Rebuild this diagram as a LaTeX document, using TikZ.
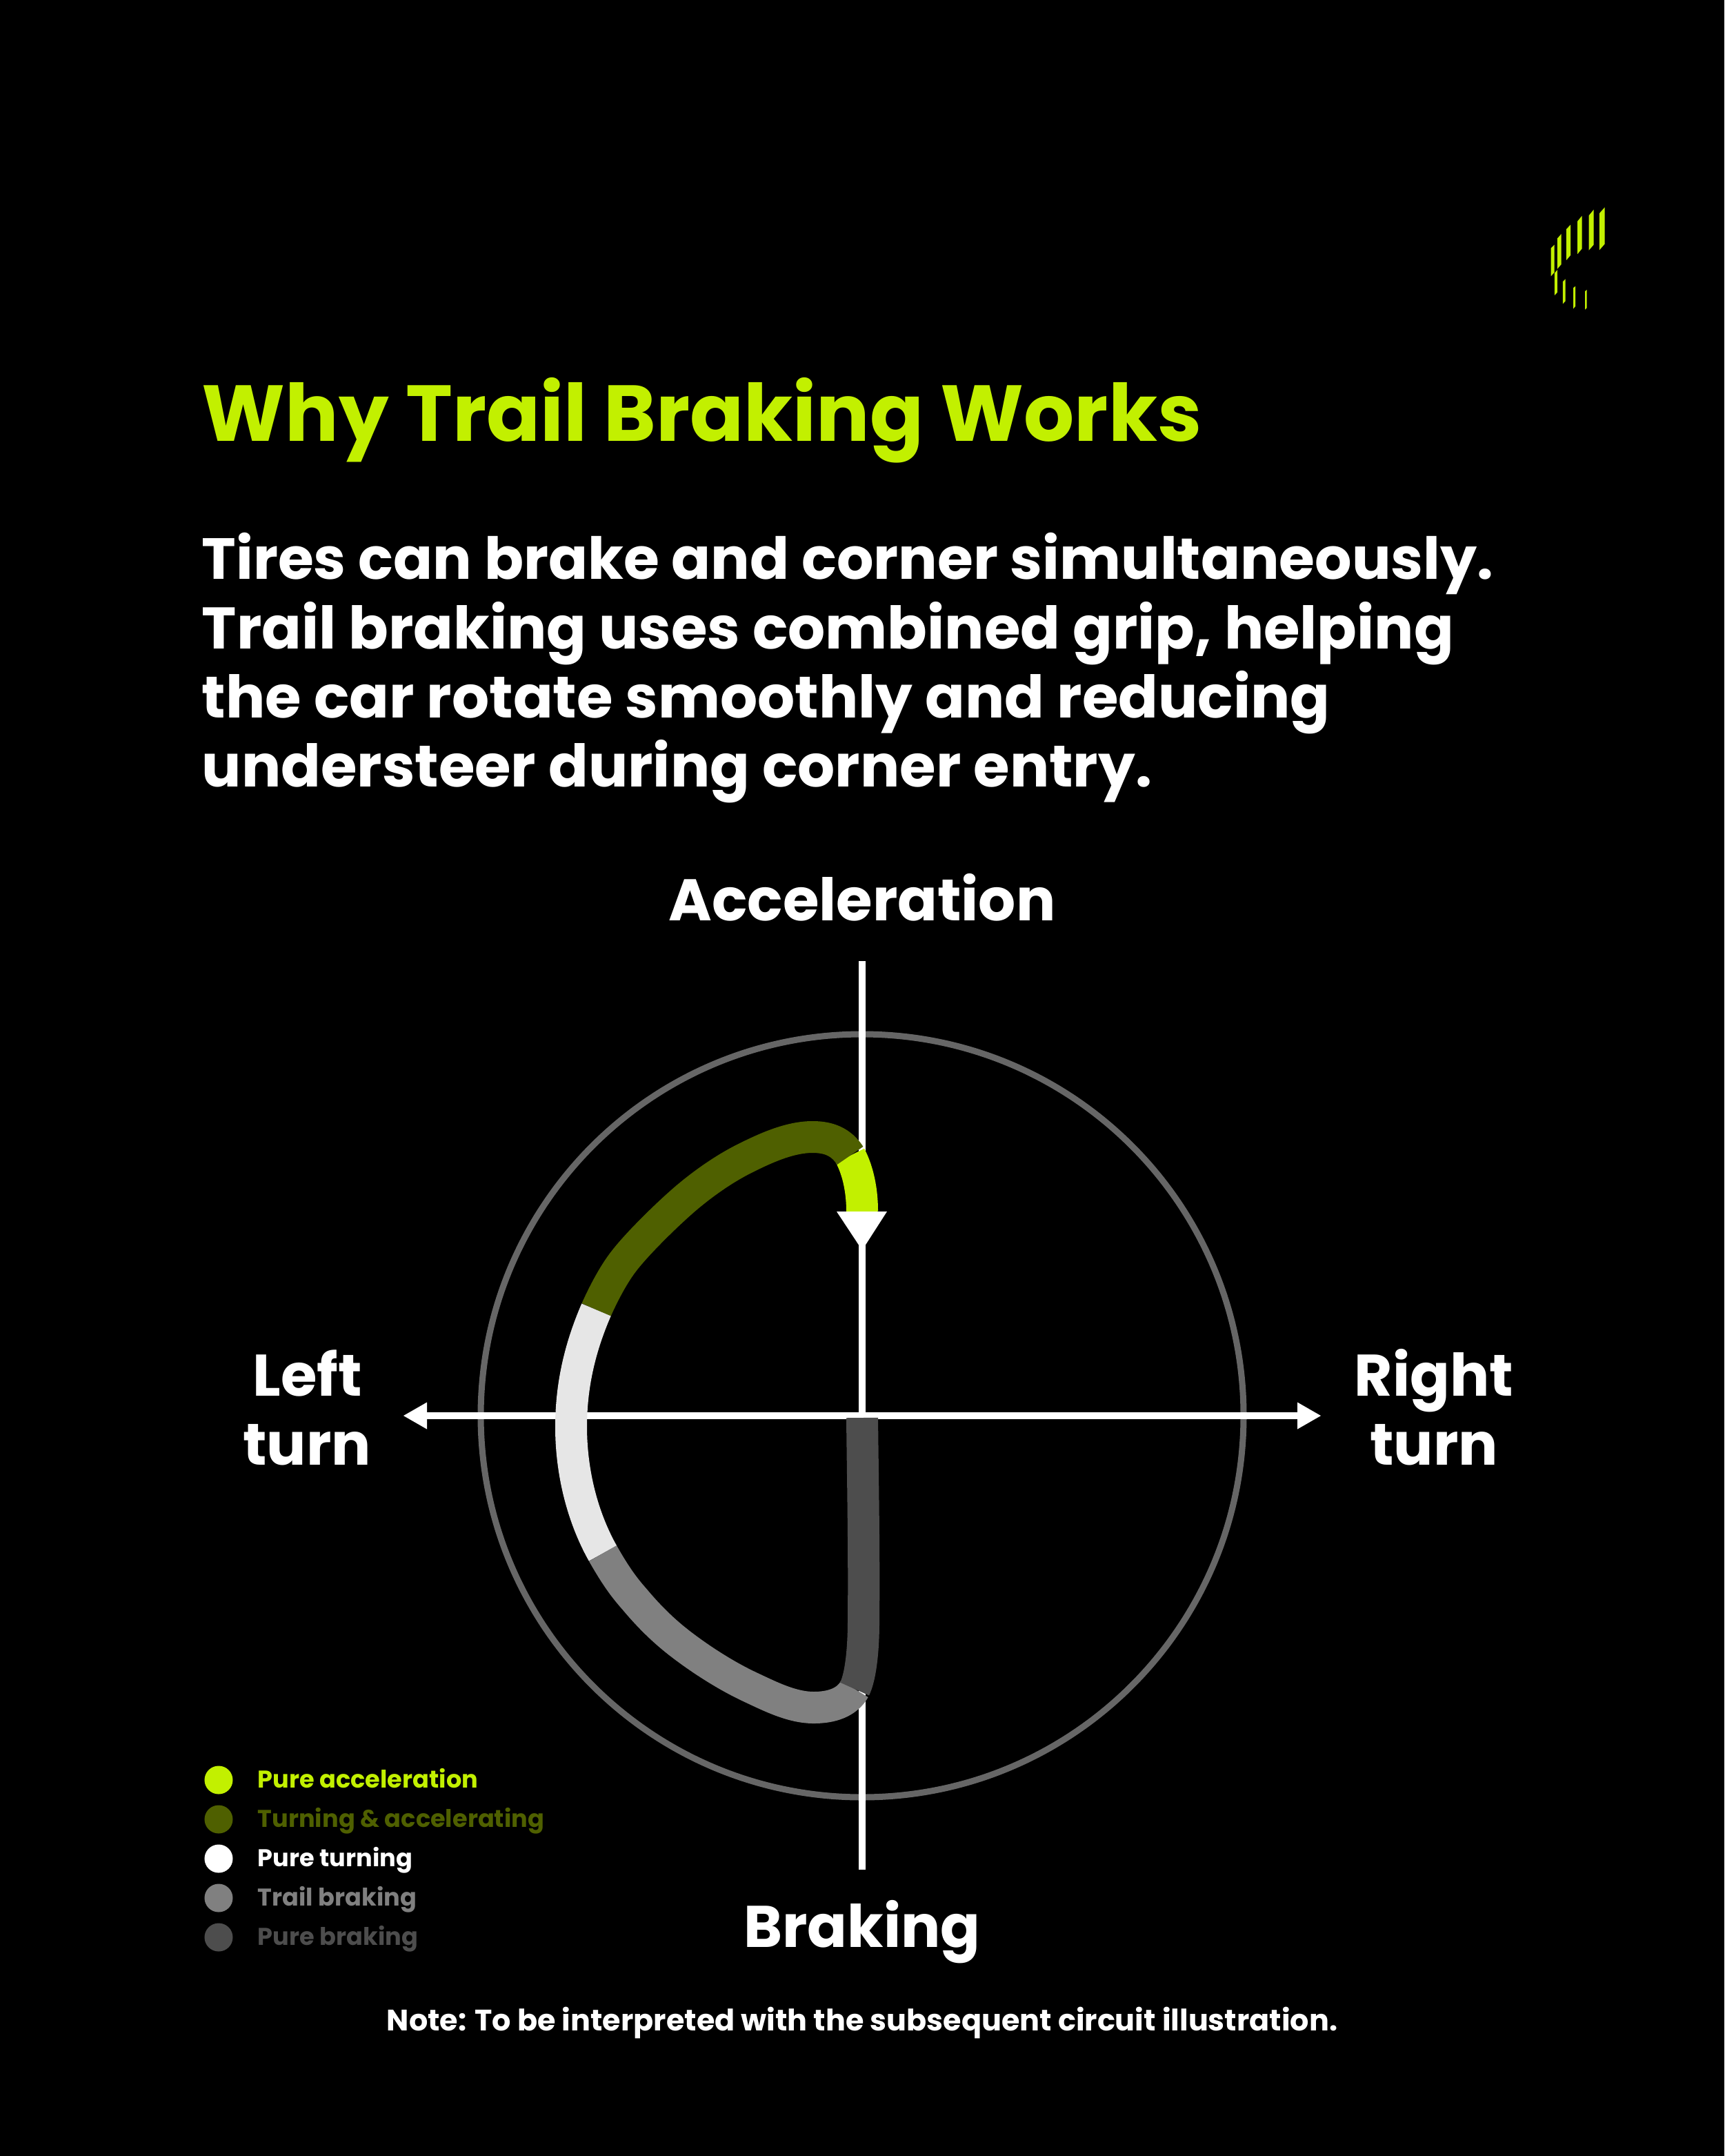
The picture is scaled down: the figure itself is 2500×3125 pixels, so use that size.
\documentclass[tikz,border=0pt]{standalone}
\usepackage{fontspec}
\setmainfont{Poppins}[BoldFont=* Bold]
\definecolor{lime}{HTML}{C2F000}
\definecolor{olive}{HTML}{4F6000}
\definecolor{chartwhite}{HTML}{E6E6E6}
\definecolor{trail}{HTML}{808080}
\definecolor{brake}{HTML}{4D4D4D}
\definecolor{ringgray}{HTML}{666666}
\tikzset{
  seg/.style={line width=0.46cm,line cap=butt,line join=round},
  axisline/.style={draw=white,line width=0.095cm},
  tip/.style={fill=white},
  titletext/.style={anchor=base west,inner sep=0pt,text=lime,font=\bfseries\fontsize{32.7}{32.7}\selectfont},
  bodytext/.style={anchor=base west,inner sep=0pt,text=white,font=\bfseries\fontsize{24.2}{24.2}\selectfont},
  bodyfirst/.style={anchor=base west,inner sep=0pt,text=white,font=\bfseries\fontsize{23.9}{23.9}\selectfont},
  axlabel/.style={anchor=base,inner sep=0pt,text=white,font=\bfseries\fontsize{24.2}{24.2}\selectfont},
  legdot/.style={circle,inner sep=0pt,minimum size=0.41cm},
  legtext/.style={anchor=base west,inner sep=0pt,font=\bfseries\fontsize{10}{10}\selectfont},
  notetext/.style={anchor=base,inner sep=0pt,text=white,font=\bfseries\fontsize{12.2}{12.2}\selectfont},
}
\begin{document}
\begin{tikzpicture}[x=0.01cm,y=-0.01cm]
\fill[black] (0,0) rectangle (2500,3125);
\useasboundingbox (0,0) rectangle (2500,3125);
% logo
\begin{scope}[shift={(2200,280)},x=0.003333cm,y=-0.003333cm]
\fill[lime] (146,240)--(161,225)--(161,345)--(146,362)--cycle;
\fill[lime] (174,197)--(191,178)--(191,310)--(174,330)--cycle;
\fill[lime] (213,157)--(232,137)--(232,270)--(213,292)--cycle;
\fill[lime] (262,122)--(281,99)--(281,242)--(262,265)--cycle;
\fill[lime] (311,98)--(332,72)--(332,225)--(311,249)--cycle;
\fill[lime] (357,88)--(380,62)--(380,222)--(357,248)--cycle;
\fill[lime] (162,348)--(174,334)--(174,432)--(162,445)--cycle;
\fill[lime] (198,385)--(209,374)--(209,470)--(198,482)--cycle;
\fill[lime] (244,412)--(253,405)--(253,492)--(244,503)--cycle;
\fill[lime] (295,427)--(302,421)--(302,500)--(295,507)--cycle;
\end{scope}
% heading
\node[titletext] (title) at (292,640) {Why Trail Braking Works};
\node[bodyfirst] (b1) at (292,840) {Tires can brake and corner simultaneously.};
\node[bodytext] (b2) at (292,940) {Trail braking uses combined grip, helping};
\node[bodytext] (b3) at (292,1040) {the car rotate smoothly and reducing};
\node[bodytext] (b4) at (292,1140) {understeer during corner entry.};
% ring and axes
\coordinate (o) at (1250,2052);
\draw[ringgray,line width=0.09cm] (o) circle (553);
\coordinate (top) at (1250,1393);
\coordinate (bot) at (1250,2710);
\coordinate (lft) at (610,2052);
\coordinate (rgt) at (1890,2052);
\draw[axisline] (top) -- (bot);
\draw[axisline] (lft) -- (rgt);
\fill[tip] (585,2052) -- (619,2032.5) -- (619,2071.5) -- cycle;
\fill[tip] (1915,2052) -- (1881,2032.5) -- (1881,2071.5) -- cycle;
% friction trace
\coordinate (p0) at (1250,1756);
\coordinate (p1) at (1232.5,1675);
\coordinate (p2) at (864.5,1898.5);
\coordinate (p3) at (874,2251.5);
\coordinate (p4) at (1239,2448);
\coordinate (p5) at (1250,2055);
\draw[seg,lime] (p0) .. controls (1250,1725) and (1244,1697) .. (p1);
\draw[seg,olive] (p1) .. controls (1219,1654) and (1200,1648) .. (1178,1648)
  .. controls (1145,1648) and (1110,1664) .. (1080,1679)
  .. controls (1050,1694) and (1020,1715) .. (993,1738)
  .. controls (963,1764) and (924,1803) .. (906,1826)
  .. controls (890,1846) and (875,1875) .. (p2);
\draw[seg,chartwhite] (p2) .. controls (840,1955) and (828,2010) .. (828,2068)
  .. controls (828,2135) and (845,2200) .. (p3);
\draw[seg,trail] (p3) .. controls (893,2285) and (905,2301) .. (920,2318)
  .. controls (936,2337) and (957,2360) .. (987,2383)
  .. controls (1017,2406) and (1053,2429) .. (1087,2445)
  .. controls (1117,2459) and (1148,2475) .. (1180,2475)
  .. controls (1205,2475) and (1228,2468) .. (p4);
\draw[seg,brake] (p4) .. controls (1248,2430) and (1252,2390) .. (1252,2350)
  .. controls (1253,2250) and (1251,2150) .. (p5);
\fill[tip] (1213,1756) -- (1286,1756) -- (1250,1812) -- cycle;
% axis labels
\node[axlabel] (acc) at (1250,1334) {Acceleration};
\node[axlabel] (brk) at (1250,2822) {Braking};
\node[axlabel] (lt1) at (446,2023) {Left};
\node[axlabel] (lt2) at (445,2123) {turn};
\node[axlabel] (rt1) at (2079,2023) {Right};
\node[axlabel] (rt2) at (2079,2123) {turn};
% legend
\node[legdot,fill=lime] (d1) at (317,2580) {};
\node[legdot,fill=olive] (d2) at (317,2637) {};
\node[legdot,fill=white] (d3) at (317,2694) {};
\node[legdot,fill=trail] (d4) at (317,2751) {};
\node[legdot,fill=brake] (d5) at (317,2808) {};
\node[legtext,text=lime] (l1) at (373,2591) {Pure acceleration};
\node[legtext,text=olive] (l2) at (373,2648) {Turning \& accelerating};
\node[legtext,text=white] (l3) at (373,2705) {Pure turning};
\node[legtext,text=trail] (l4) at (373,2762) {Trail braking};
\node[legtext,text=brake] (l5) at (373,2819) {Pure braking};
% note
\node[notetext] (note) at (1250,2943) {Note: To be interpreted with the subsequent circuit illustration.};
\end{tikzpicture}
\end{document}
